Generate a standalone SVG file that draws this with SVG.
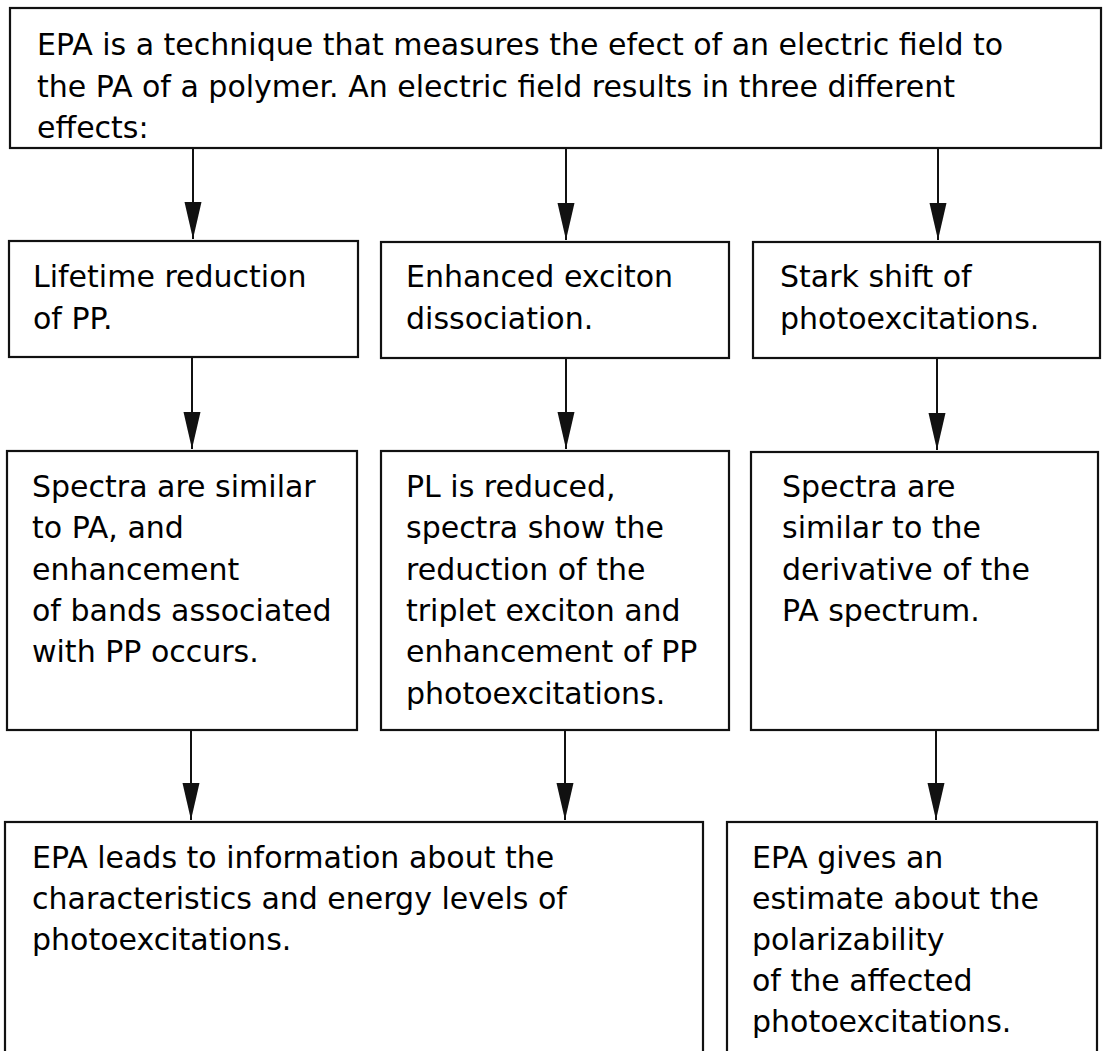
<svg xmlns="http://www.w3.org/2000/svg" width="1104" height="1051" viewBox="0 0 1104 1051">
<style>
.box{fill:#fff;stroke:#111;stroke-width:2.2}
.t{font-family:"DejaVu Sans","Verdana",sans-serif;font-size:30px;fill:#000}
.c{stroke:#111;stroke-width:2;fill:none}
</style>
<defs>
<marker id="ah" markerUnits="userSpaceOnUse" markerWidth="38" markerHeight="18" refX="37" refY="8.5" orient="auto">
<path d="M0,0 L37,8.5 L0,17 Z" fill="#111"/>
</marker>
</defs>
<rect width="1104" height="1051" fill="#fff"/>
<g id="connectors">
<line class="c" x1="193" y1="148" x2="193" y2="239" marker-end="url(#ah)"/>
<line class="c" x1="566" y1="148" x2="566" y2="240" marker-end="url(#ah)"/>
<line class="c" x1="938" y1="148" x2="938" y2="240" marker-end="url(#ah)"/>
<line class="c" x1="192" y1="357" x2="192" y2="449" marker-end="url(#ah)"/>
<line class="c" x1="566" y1="358" x2="566" y2="449" marker-end="url(#ah)"/>
<line class="c" x1="937" y1="358" x2="937" y2="450" marker-end="url(#ah)"/>
<line class="c" x1="191" y1="730" x2="191" y2="820" marker-end="url(#ah)"/>
<line class="c" x1="565" y1="730" x2="565" y2="820" marker-end="url(#ah)"/>
<line class="c" x1="936" y1="730" x2="936" y2="820" marker-end="url(#ah)"/>
</g>
<g id="top">
<rect class="box" x="10" y="8" width="1091" height="140"/>
<text class="t" x="37" y="55">EPA is a technique that measures the efect of an electric field to</text>
<text class="t" x="37" y="97">the PA of a polymer. An electric field results in three different</text>
<text class="t" x="37" y="138">effects:</text>
</g>
<g id="lifetime">
<rect class="box" x="9" y="241" width="349" height="116"/>
<text class="t" x="33" y="287">Lifetime reduction</text>
<text class="t" x="33" y="329">of PP.</text>
</g>
<g id="dissociation">
<rect class="box" x="381" y="242" width="348" height="116"/>
<text class="t" x="406" y="287">Enhanced exciton</text>
<text class="t" x="406" y="329">dissociation.</text>
</g>
<g id="stark">
<rect class="box" x="753" y="242" width="347" height="116"/>
<text class="t" x="780" y="287">Stark shift of</text>
<text class="t" x="780" y="329">photoexcitations.</text>
</g>
<g id="spectraPA">
<rect class="box" x="7" y="451" width="350" height="279"/>
<text class="t" x="32" y="497">Spectra are similar</text>
<text class="t" x="32" y="538">to PA, and</text>
<text class="t" x="32" y="580">enhancement</text>
<text class="t" x="32" y="621">of bands associated</text>
<text class="t" x="32" y="662">with PP occurs.</text>
</g>
<g id="plReduced">
<rect class="box" x="381" y="451" width="348" height="279"/>
<text class="t" x="406" y="497">PL is reduced,</text>
<text class="t" x="406" y="538">spectra show the</text>
<text class="t" x="406" y="580">reduction of the</text>
<text class="t" x="406" y="621">triplet exciton and</text>
<text class="t" x="406" y="662">enhancement of PP</text>
<text class="t" x="406" y="704">photoexcitations.</text>
</g>
<g id="derivative">
<rect class="box" x="751" y="452" width="347" height="278"/>
<text class="t" x="782" y="497">Spectra are</text>
<text class="t" x="782" y="538">similar to the</text>
<text class="t" x="782" y="580">derivative of the</text>
<text class="t" x="782" y="621">PA spectrum.</text>
</g>
<g id="information">
<rect class="box" x="5" y="822" width="698" height="260"/>
<text class="t" x="32" y="868">EPA leads to information about the</text>
<text class="t" x="32" y="909">characteristics and energy levels of</text>
<text class="t" x="32" y="950">photoexcitations.</text>
</g>
<g id="polarizability">
<rect class="box" x="727" y="822" width="370" height="260"/>
<text class="t" x="752" y="868">EPA gives an</text>
<text class="t" x="752" y="909">estimate about the</text>
<text class="t" x="752" y="950">polarizability</text>
<text class="t" x="752" y="991">of the affected</text>
<text class="t" x="752" y="1032">photoexcitations.</text>
</g>
</svg>
